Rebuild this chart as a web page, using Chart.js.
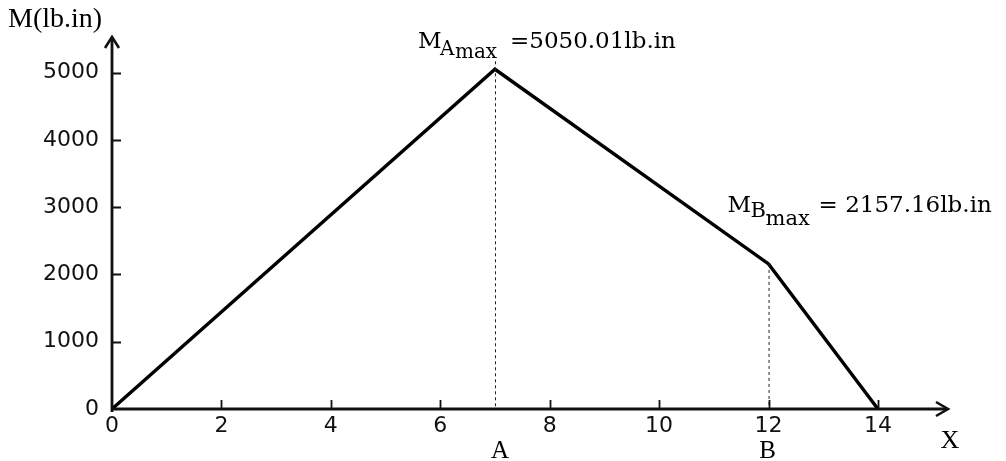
<!DOCTYPE html>
<html>
<head>
<meta charset="utf-8">
<script src="https://cdn.jsdelivr.net/npm/chart.js@4/dist/chart.umd.min.js"></script>
<style>
  html, body { margin: 0; padding: 0; background: #ffffff; }
  #c { display: block; }
</style>
</head>
<body>
<canvas id="c" width="1006" height="461"></canvas>
<script>
// Bending moment diagram along the shaft
const positionsX = [0, 7, 12, 14];
const moments = [0, 5050.01, 2157.16, 0];
const xTicks = [0, 2, 4, 6, 8, 10, 12, 14];
const yTicks = [0, 1000, 2000, 3000, 4000, 5000];
const sectionNames = ['A', 'B'];
const sectionX = [7, 12];
const sectionMoment = [5050.01, 2157.16];

const INK = '#111111';

function drawRun(ctx, parts, x, y) {
  // draws a sequence of text pieces on one line, each with its own font and offset
  let cx = x;
  for (const p of parts) {
    ctx.font = p.f;
    const px = p.x !== undefined ? p.x : cx;
    ctx.fillText(p.t, px, y + (p.dy || 0));
    cx = px + ctx.measureText(p.t).width;
  }
}

const decorations = {
  id: 'decorations',
  afterDatasetsDraw(chart) {
    const ctx = chart.ctx;
    const xs = chart.scales.x, ys = chart.scales.y;
    const x0 = xs.getPixelForValue(0);
    const y0 = ys.getPixelForValue(0);
    const xEnd = chart.chartArea.right;
    const yTop = chart.chartArea.top;

    ctx.save();
    ctx.lineCap = 'butt';

    // dashed drop lines at the two sections
    ctx.lineWidth = 1;
    ctx.strokeStyle = '#222222';
    ctx.setLineDash([3, 3]);
    sectionX.forEach((sx, i) => {
      const px = xs.getPixelForValue(sx);
      const top = ys.getPixelForValue(sectionMoment[i]) - (i === 0 ? 8 : 0);
      ctx.beginPath();
      ctx.moveTo(px + 0.5, top);
      ctx.lineTo(px + 0.5, y0);
      ctx.stroke();
    });
    ctx.setLineDash([]);
    ctx.strokeStyle = INK;

    // axes
    ctx.lineWidth = 2.8;
    ctx.beginPath();
    ctx.moveTo(x0, y0 + 3);
    ctx.lineTo(x0, yTop + 1);
    ctx.moveTo(x0 - 1, y0);
    ctx.lineTo(xEnd - 1, y0);
    ctx.stroke();

    // arrow heads
    ctx.lineWidth = 2.6;
    ctx.lineJoin = 'miter';
    ctx.beginPath();
    ctx.moveTo(x0 - 7, yTop + 11);
    ctx.lineTo(x0, yTop);
    ctx.lineTo(x0 + 7, yTop + 11);
    ctx.moveTo(xEnd - 12, y0 - 7);
    ctx.lineTo(xEnd, y0);
    ctx.lineTo(xEnd - 12, y0 + 7);
    ctx.stroke();

    // tick marks pointing into the plot
    ctx.lineWidth = 1.8;
    ctx.beginPath();
    yTicks.forEach(v => {
      if (v === 0) return;
      const py = Math.round(ys.getPixelForValue(v)) + 0.5;
      ctx.moveTo(x0, py);
      ctx.lineTo(x0 + 9, py);
    });
    xTicks.forEach(v => {
      if (v === 0) return;
      const px = Math.round(xs.getPixelForValue(v)) + 0.5;
      ctx.moveTo(px, y0);
      ctx.lineTo(px, y0 - 9);
    });
    ctx.stroke();

    // texts
    ctx.fillStyle = '#000000';
    ctx.textBaseline = 'alphabetic';
    ctx.textAlign = 'left';
    const serif = '"Liberation Serif"';
    const ser2 = '"DejaVu Serif"';

    ctx.font = '28px ' + serif;
    ctx.fillText('M(lb.in)', 8, 27);

    ctx.textAlign = 'center';
    ctx.font = '26px ' + serif;
    ctx.fillText('X', xEnd + 2, y0 + 39);
    sectionNames.forEach((n, i) => {
      const px = xs.getPixelForValue(sectionX[i]);
      ctx.font = '25px ' + serif;
      ctx.fillText(n, px + (i === 0 ? 5 : -1), y0 + 49);
    });
    ctx.textAlign = 'left';

    // maximum moment at A
    const ax = xs.getPixelForValue(sectionX[0]);
    const ay = ys.getPixelForValue(sectionMoment[0]);
    drawRun(ctx, [
      { t: 'M', f: '23px ' + ser2 },
      { t: 'A', f: '20px ' + ser2, dy: 7, x: ax - 55 },
      { t: 'max', f: '20px ' + ser2, dy: 10, x: ax - 40 },
      { t: '=' + sectionMoment[0].toFixed(2) + 'lb.in', f: '23px ' + ser2, x: ax + 15 }
    ], ax - 77, ay - 21);

    // maximum moment at B
    const bx = xs.getPixelForValue(sectionX[1]);
    const by = ys.getPixelForValue(sectionMoment[1]);
    drawRun(ctx, [
      { t: 'M', f: '23px ' + ser2 },
      { t: 'B', f: '21px ' + ser2, dy: 5, x: bx - 18 },
      { t: 'max', f: '21px ' + ser2, dy: 13, x: bx - 3 },
      { t: '= ' + sectionMoment[1].toFixed(2) + 'lb.in', f: '23px ' + ser2, x: bx + 50 }
    ], bx - 41, by - 52);

    ctx.restore();
  }
};

new Chart(document.getElementById('c'), {
  type: 'scatter',
  data: {
    datasets: [{
      data: positionsX.map((x, i) => ({ x: x, y: moments[i] })),
      showLine: true,
      borderColor: '#000000',
      borderWidth: 3.4,
      pointRadius: 0,
      pointHoverRadius: 0,
      tension: 0,
      fill: false
    }]
  },
  options: {
    responsive: false,
    animation: false,
    layout: { padding: { top: 37, right: 58, left: 0, bottom: 0 } },
    plugins: { legend: { display: false }, tooltip: { enabled: false } },
    scales: {
      x: {
        type: 'linear',
        min: 0,
        max: 15.28,
        grid: { display: false, drawTicks: false },
        border: { display: false },
        afterBuildTicks: s => { s.ticks = xTicks.map(v => ({ value: v })); },
        afterFit: s => { s.height = 52; },
        ticks: {
          font: { family: 'DejaVu Sans', size: 22 },
          color: '#111111',
          padding: 4,
          maxRotation: 0,
          autoSkip: false,
          callback: v => String(v)
        }
      },
      y: {
        type: 'linear',
        min: 0,
        max: 5530,
        grid: { display: false, drawTicks: false },
        border: { display: false },
        afterBuildTicks: s => { s.ticks = yTicks.map(v => ({ value: v })); },
        afterFit: s => { s.width = 112; },
        ticks: {
          font: { family: 'DejaVu Sans', size: 22 },
          color: '#111111',
          padding: 13,
          autoSkip: false,
          callback: v => String(v)
        }
      }
    }
  },
  plugins: [decorations]
});
</script>
</body>
</html>
